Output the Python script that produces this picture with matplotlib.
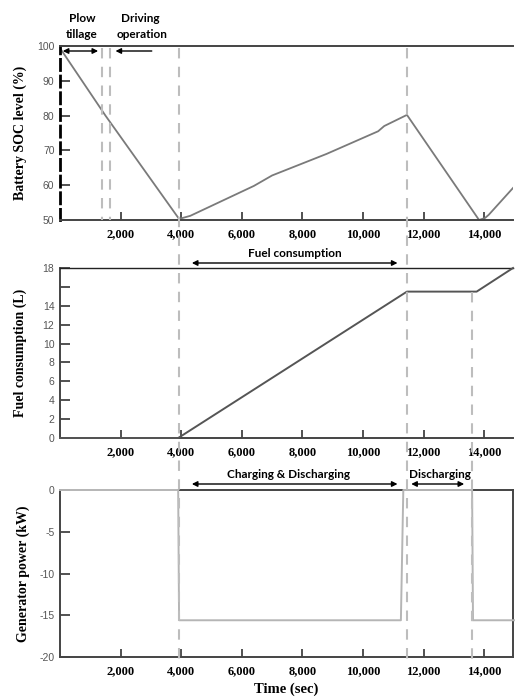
import numpy as np
import matplotlib
matplotlib.use("Agg")
import matplotlib.pyplot as plt
from matplotlib.transforms import blended_transform_factory
from matplotlib.lines import Line2D

# data
soc_t = [0, 1500, 3930, 4300, 6400, 7000, 8800, 10500, 10700, 11450, 13830, 14030, 14150, 14950]
soc_v = [99.4, 80.0, 50.3, 51.2, 59.8, 62.8, 69.0, 75.5, 77.0, 80.2, 50.0, 50.6, 51.5, 59.2]

fuel_t = [0, 3900, 11450, 13750, 14950]
fuel_v = [0, 0, 15.5, 15.5, 18.0]

gen_t = [0, 3900, 3930, 11250, 11330, 13600, 13630, 15000]
gen_v = [0, 0, -15.6, -15.6, 0, 0, -15.6, -15.6]

xticks = [2000, 4000, 6000, 8000, 10000, 12000, 14000]
xlabels = ["2,000", "4,000", "6,000", "8,000", "10,000", "12,000", "14,000"]

W, H = 515, 697
fig = plt.figure(figsize=(W / 100, H / 100), dpi=100)

def px_rect(l, t, r, b):
    return [l / W, 1 - b / H, (r - l) / W, (b - t) / H]

ax1 = fig.add_axes(px_rect(60, 46, 513, 220))
ax2 = fig.add_axes(px_rect(60, 268, 513, 438))
ax3 = fig.add_axes(px_rect(60, 490, 513, 657))

serif = "Liberation Serif"
sans = "Liberation Sans"
lbl = "Lato"

for ax in (ax1, ax2, ax3):
    ax.set_xlim(0, 14950)
    ax.set_xticks(xticks)
    ax.set_xticklabels(xlabels, fontfamily=serif, fontweight="bold", fontsize=9)
    ax.tick_params(axis="x", direction="in", length=6, width=1.2, color="#333", pad=6)
    ax.tick_params(axis="y", direction="in", length=7, width=1.2, color="#333",
                   labelcolor="#555", labelsize=7.5, pad=4)
    for s in ax.spines.values():
        s.set_color("#444")
        s.set_linewidth(1.4)

# panel 1
ax1.plot(soc_t, soc_v, color="#7a7a7a", lw=1.3)
ax1.set_ylim(50, 100)
ax1.set_yticks([50, 60, 70, 80, 90, 100])
ax1.set_yticklabels(["50", "60", "70", "80", "90", "100"], fontfamily=sans)
ax1.spines["right"].set_visible(False)
ax1.spines["left"].set_color("black")
ax1.spines["left"].set_linewidth(2)
ax1.spines["left"].set_linestyle((0, (4, 2)))
ax1.set_ylabel("Battery SOC level (%)", fontfamily=serif, fontweight="bold", fontsize=10, labelpad=7)

# panel 2
ax2.plot(fuel_t, fuel_v, color="#555555", lw=1.4, clip_on=False, zorder=3)
ax2.set_ylim(0, 18)
ax2.set_yticks([0, 2, 4, 6, 8, 10, 12, 14, 16, 18])
ax2.set_yticklabels(["0", "2", "4", "6", "8", "10", "12", "14", "", "18"], fontfamily=sans)
ax2.spines["right"].set_visible(False)
ax2.spines["top"].set_color("#222")
ax2.spines["top"].set_linewidth(1.0)
ax2.set_ylabel("Fuel consumption (L)", fontfamily=serif, fontweight="bold", fontsize=10, labelpad=11)

# panel 3
ax3.plot(gen_t, gen_v, color="#b5b5b5", lw=1.4, clip_on=False, zorder=3)
ax3.set_ylim(-20, 0)
ax3.set_yticks([-20, -15, -10, -5, 0])
ax3.set_yticklabels(["-20", "-15", "-10", "-5", "0"], fontfamily=sans)
ax3.spines["top"].set_bounds(3900, 14950)
ax3.set_ylabel("Generator power (kW)", fontfamily=serif, fontweight="bold", fontsize=10, labelpad=7)
ax3.set_xlabel("Time (sec)", fontfamily=serif, fontweight="bold", fontsize=10.5, labelpad=4)

# dashed guide lines across the panels (x in data, y in figure pixels)
tr = blended_transform_factory(ax1.transData, fig.transFigure)
def vdash(x, top, bottom):
    fig.add_artist(Line2D([x, x], [1 - top / H, 1 - bottom / H], transform=tr,
                          color="#bdbdbd", lw=1.5, ls=(0, (5, 4)), zorder=1))

vdash(1380, 48, 220)
vdash(1660, 48, 220)
vdash(3930, 48, 660)
vdash(11450, 48, 660)
vdash(13600, 292, 660)

# arrows and phase labels
def arrow(x0, x1, y, style):
    fig.add_artist(matplotlib.patches.FancyArrowPatch(
        (x0, 1 - y / H), (x1, 1 - y / H), transform=tr, arrowstyle=style,
        mutation_scale=8, color="black", lw=1.0))

def label(x, y, s):
    fig.text(x, 1 - y / H, s, transform=tr, ha="center", va="center",
             fontfamily=lbl, fontweight="bold", fontsize=8.5)

arrow(0, 1350, 51, "<|-|>")
arrow(3120, 1740, 51, "-|>")
label(720, 18, "Plow")
label(720, 35, "tillage")
label(2640, 18, "Driving")
label(2700, 35, "operation")

arrow(4260, 11230, 263, "<|-|>")
label(7750, 253, "Fuel consumption")

arrow(4260, 11230, 484, "<|-|>")
label(7550, 475, "Charging & Discharging")

arrow(11500, 13430, 484, "<|-|>")
label(12550, 475, "Discharging")

plt.savefig("out.png", dpi=100)
